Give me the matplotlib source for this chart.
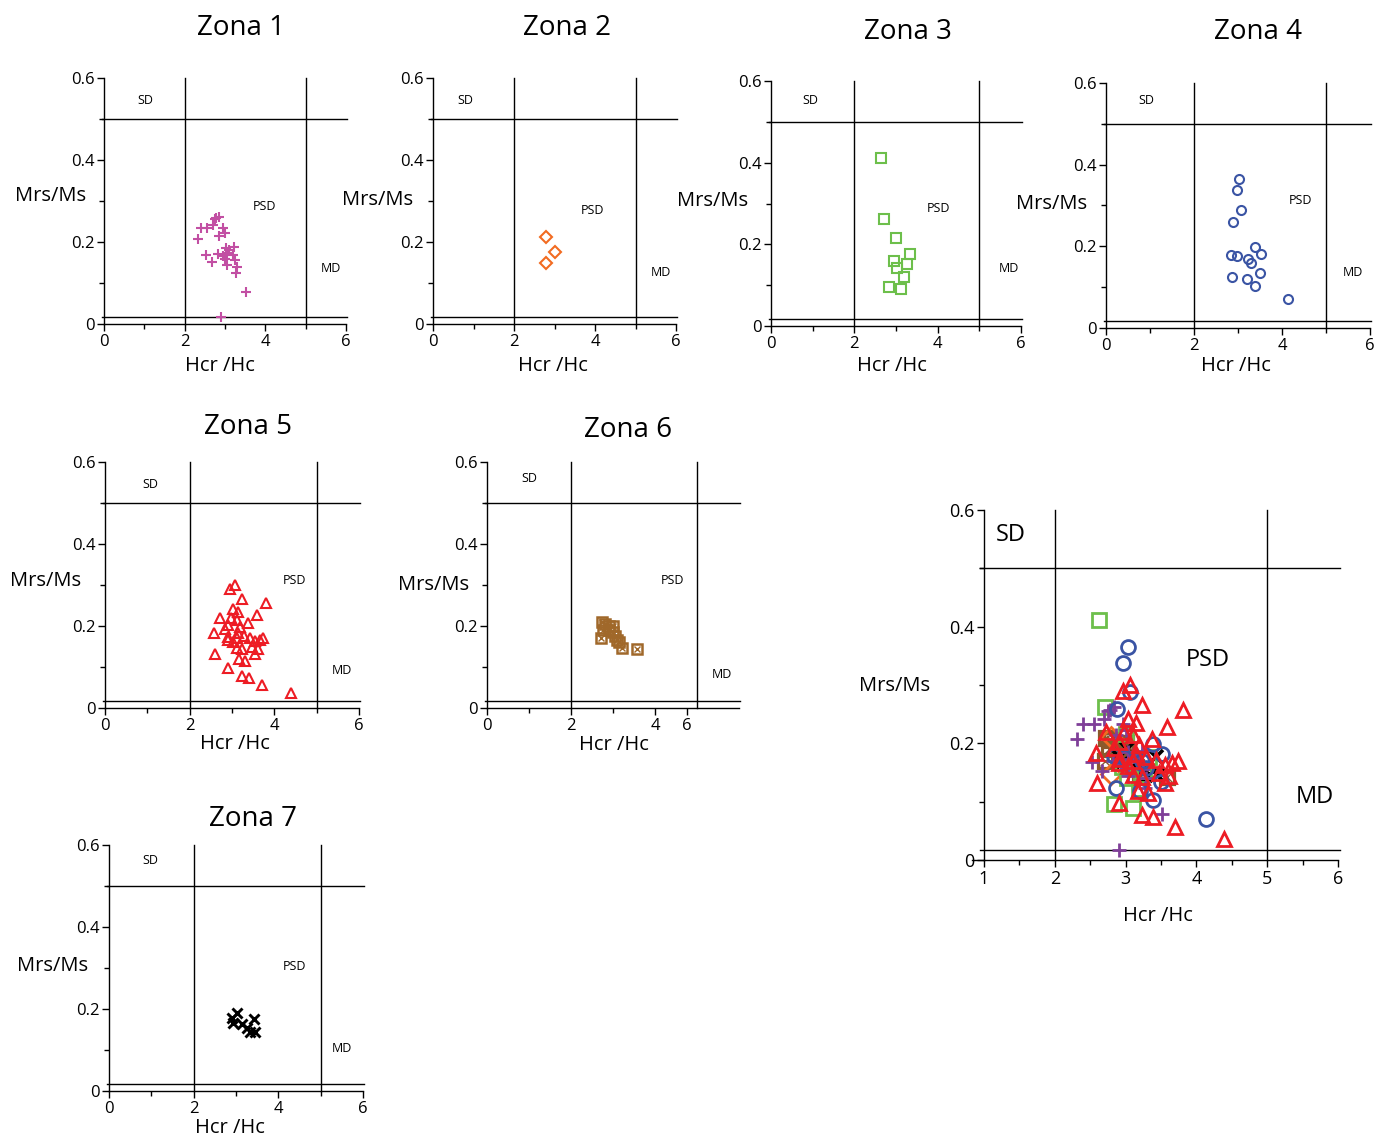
import matplotlib
matplotlib.use("Agg")
import matplotlib.pyplot as plt

plt.rcParams['font.family'] = ['Open Sans', 'DejaVu Sans']

W, H = 1375, 1138

# Hcr/Hc and Mrs/Ms per zone
z1_x = [2.32, 2.40, 2.55, 2.70, 2.75, 2.84, 2.78, 2.96, 3.00, 2.86, 2.53, 2.67, 2.82,
        3.03, 3.04, 3.00, 3.04, 3.19, 3.23, 3.25, 3.29, 3.28, 3.52, 2.90, 3.10, 2.95]
z1_y = [0.207, 0.233, 0.233, 0.241, 0.255, 0.262, 0.258, 0.233, 0.223, 0.215, 0.168,
        0.152, 0.170, 0.185, 0.174, 0.158, 0.144, 0.168, 0.187, 0.156, 0.140, 0.124,
        0.079, 0.018, 0.180, 0.165]

z2_x = [2.79, 3.00, 2.79]
z2_y = [0.211, 0.175, 0.148]

z3_x = [2.63, 2.71, 3.00, 3.33, 2.95, 3.26, 3.02, 3.19, 2.84, 3.11]
z3_y = [0.412, 0.263, 0.216, 0.176, 0.159, 0.152, 0.141, 0.121, 0.096, 0.090]

z4_x = [3.03, 2.97, 3.06, 2.88, 3.39, 2.83, 2.98, 3.52, 3.23, 3.29, 2.87, 3.50, 3.20,
        3.39, 4.13]
z4_y = [0.366, 0.338, 0.288, 0.259, 0.199, 0.179, 0.177, 0.181, 0.169, 0.158, 0.124,
        0.134, 0.119, 0.103, 0.070]

z5_x = [3.06, 2.96, 3.23, 3.81, 3.03, 3.15, 3.59, 2.72, 2.98, 3.11, 3.37, 2.91, 2.83,
        3.19, 3.15, 2.58, 2.91, 3.29, 3.43, 3.74, 3.66, 3.11, 2.90, 3.03, 3.55, 3.47,
        3.11, 3.62, 3.23, 2.60, 3.55, 3.17, 3.31, 2.90, 3.23, 3.39, 3.70, 4.39]
z5_y = [0.300, 0.290, 0.265, 0.257, 0.241, 0.235, 0.228, 0.219, 0.220, 0.215, 0.208,
        0.202, 0.192, 0.197, 0.182, 0.184, 0.174, 0.176, 0.171, 0.170, 0.166, 0.170,
        0.167, 0.162, 0.163, 0.150, 0.146, 0.144, 0.143, 0.132, 0.132, 0.119, 0.115,
        0.098, 0.078, 0.074, 0.056, 0.036]

z6_x = [2.73, 2.80, 2.90, 3.00, 2.77, 2.90, 3.00, 3.05, 2.71, 3.10, 3.15, 3.21, 3.58]
z6_y = [0.210, 0.205, 0.200, 0.200, 0.190, 0.190, 0.185, 0.175, 0.170, 0.165, 0.160,
        0.146, 0.143]

z7_x = [3.02, 2.90, 2.94, 3.13, 3.43, 3.25, 3.45, 3.33]
z7_y = [0.190, 0.177, 0.165, 0.163, 0.176, 0.153, 0.145, 0.145]

zones = [
    dict(x=z1_x, y=z1_y, m='+', c='#c24fa3', call='#7f3f98'),
    dict(x=z2_x, y=z2_y, m='D', c='#f26b21', call='#f26b21'),
    dict(x=z3_x, y=z3_y, m='s', c='#6dbf4b', call='#6dbf4b'),
    dict(x=z4_x, y=z4_y, m='o', c='#3a54a4', call='#3a54a4'),
    dict(x=z5_x, y=z5_y, m='^', c='#ed1c24', call='#ed1c24'),
    dict(x=z6_x, y=z6_y, m='s', c='#a0682a', call='#8b5a2b'),
    dict(x=z7_x, y=z7_y, m='x', c='black', call='black'),
]

fig = plt.figure(figsize=(W / 100, H / 100), dpi=100)


def ftext(px, py, s, size, **kw):
    fig.text(px / W, 1 - py / H, s, fontsize=size, ha='center', va='center', **kw)


def make_axes(left, right, y0, ytop, xmin=0, xmax=6):
    ax = fig.add_axes([left / W, 1 - y0 / H, (right - left) / W, (y0 - ytop) / H])
    ax.set_xlim(xmin, xmax)
    ax.set_ylim(0, 0.6)
    ax.patch.set_alpha(0)
    for s in ['top', 'right']:
        ax.spines[s].set_visible(False)
    for s in ['left', 'bottom']:
        ax.spines[s].set_linewidth(1.0)
    ax.tick_params(direction='out', length=5, width=1.0, pad=2)
    ax.tick_params(which='minor', direction='out', length=3.5, width=1.0)
    ax.set_yticks([0, 0.2, 0.4, 0.6])
    ax.set_yticks([0.1, 0.3, 0.5], minor=True)
    ax.set_yticklabels(['0', '0.2', '0.4', '0.6'])
    lx = [xmin - 0.05, xmax + 0.03]
    ax.plot(lx, [0.5, 0.5], color='black', lw=1.0, clip_on=False)
    ax.plot(lx, [0.018, 0.018], color='black', lw=1.0, clip_on=False)
    ax.plot([2, 2], [0, 0.6], color='black', lw=1.0, clip_on=False)
    ax.plot([5, 5], [0, 0.6], color='black', lw=1.0, clip_on=False)
    return ax


def draw_points(ax, z, ms, color, mew):
    if z['m'] == 's' and z['c'] == '#a0682a':
        ax.plot(z['x'], z['y'], ls='none', marker='s', ms=ms, mfc='none',
                mec=color, mew=mew + 0.3, clip_on=False)
        ax.plot(z['x'], z['y'], ls='none', marker='x', ms=ms * 0.7,
                mec=color, mew=1.0, clip_on=False)
    elif z['m'] in ['+', 'x']:
        w = mew + 0.6 if z['m'] == 'x' else mew
        ax.plot(z['x'], z['y'], ls='none', marker=z['m'], ms=ms, mec=color,
                mew=w, clip_on=False)
    else:
        ax.plot(z['x'], z['y'], ls='none', marker=z['m'], ms=ms, mfc='none',
                mec=color, mew=mew, clip_on=False)


# small panels: (left px, right px, y0 px, ytop px), title, labels positions
panels = [
    dict(box=(104, 346, 324, 78), title=(241, 28), ylab=(51, 196), xlab=(220, 366),
         sd=(145, 100), psd=(264, 206), md=(331, 269)),
    dict(box=(433, 676, 324, 78), title=(567, 28), ylab=(378, 200), xlab=(553, 366),
         sd=(465, 100), psd=(593, 211), md=(661, 273)),
    dict(box=(771, 1021, 326, 81), title=(908, 32), ylab=(713, 201), xlab=(892, 366),
         sd=(810, 100), psd=(939, 208), md=(1009, 269)),
    dict(box=(1106, 1370, 328, 83), title=(1258, 32), ylab=(1052, 204), xlab=(1236, 366),
         sd=(1146, 100), psd=(1301, 201), md=(1353, 273)),
    dict(box=(105, 359, 708, 462), title=(248, 427), ylab=(46, 581), xlab=(235, 744),
         sd=(150, 484), psd=(294, 581), md=(342, 670)),
    dict(box=(487, 739, 708, 462), title=(628, 430), ylab=(434, 585), xlab=(614, 745),
         sd=(529, 479), psd=(672, 581), md=(722, 674)),
    dict(box=(109, 363, 1091, 845), title=(253, 819), ylab=(53, 966), xlab=(230, 1128),
         sd=(150, 860), psd=(294, 967), md=(342, 1048)),
]

for i, (p, z) in enumerate(zip(panels, zones)):
    ax = make_axes(*p['box'])
    if i == 5:
        ax.set_xticks([0, 2, 4, 4.75])
        ax.set_xticklabels(['0', '2', '4', '6'])
        ax.set_xticks([1, 3], minor=True)
    else:
        ax.set_xticks([0, 2, 4, 6])
        ax.set_xticks([1, 3, 5], minor=True)
    ax.tick_params(labelsize=12)
    draw_points(ax, z, 6.5, z['c'], 1.5)
    ftext(*p['title'], 'Zona %d' % (i + 1), 20, fontweight='medium')
    ftext(*p['ylab'], 'Mrs/Ms', 14.5, fontweight='medium')
    ftext(*p['xlab'], 'Hcr /Hc', 14.5, fontweight='medium')
    ftext(*p['sd'], 'SD', 9)
    ftext(*p['psd'], 'PSD', 9)
    ftext(*p['md'], 'MD', 9)

# combined panel
ax = make_axes(984, 1338, 860, 510, xmin=1, xmax=6)
ax.plot([0.83, 1], [0, 0], color='black', lw=1.0, clip_on=False)
ax.set_xticks([1, 2, 3, 4, 5, 6])
ax.set_xticks([1.5, 2.5, 3.5, 4.5, 5.5], minor=True)
ax.tick_params(labelsize=13)
for z in [zones[5], zones[6], zones[1], zones[2], zones[0], zones[3], zones[4]]:
    draw_points(ax, z, 10, z['call'], 2.0)
ftext(895, 686, 'Mrs/Ms', 14.5, fontweight='medium')
ftext(1158, 916, 'Hcr /Hc', 14.5, fontweight='medium')
ftext(1011, 535, 'SD', 17)
ftext(1208, 660, 'PSD', 17)
ftext(1315, 797, 'MD', 17)

fig.savefig('out.png', dpi=100)
